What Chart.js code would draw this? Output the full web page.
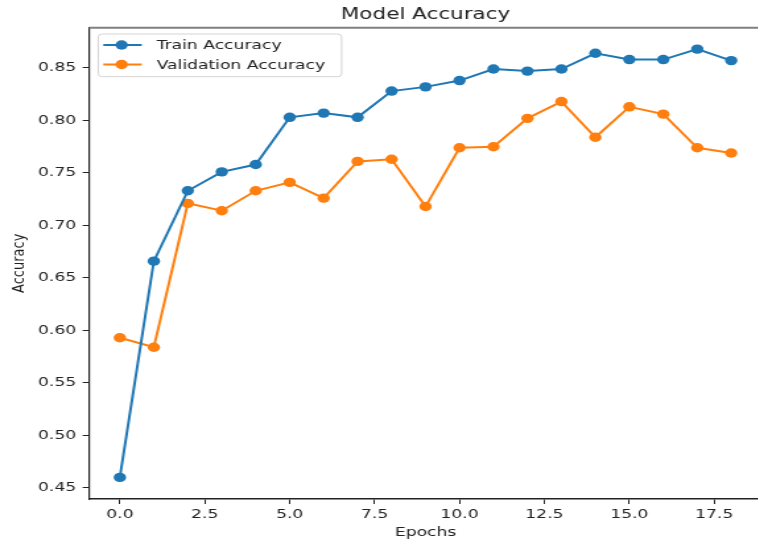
<!DOCTYPE html>
<html lang="en">
  <head>
    <meta charset="UTF-8" />
    <meta name="viewport" content="width=device-width, initial-scale=1.0" />
    <title>Model Accuracy</title>
    <script src="https://cdn.jsdelivr.net/npm/chart.js"></script>
    <style>
      html,
      body {
        margin: 0;
        padding: 0;
        background: #fff;
        overflow: hidden;
      }
      #accChart {
        display: block;
      }
    </style>
  </head>
  <body>
    <!-- the figure is stretched sideways and cut a bit at the right edge -->
    <canvas id="accChart" width="582" height="541" style="width: 768px; height: 541px"></canvas>

    <script>
      // Data
      const epochs = [0, 1, 2, 3, 4, 5, 6, 7, 8, 9, 10, 11, 12, 13, 14, 15, 16, 17, 18];
      const trainAcc = [
        0.46, 0.666, 0.733, 0.751, 0.758, 0.803, 0.807, 0.803, 0.828, 0.832,
        0.838, 0.849, 0.847, 0.849, 0.864, 0.858, 0.858, 0.868, 0.857,
      ];
      const valAcc = [
        0.593, 0.584, 0.721, 0.714, 0.733, 0.741, 0.726, 0.761, 0.763, 0.718,
        0.774, 0.775, 0.802, 0.818, 0.784, 0.813, 0.806, 0.774, 0.769,
      ];
      const xTicks = [0, 2.5, 5, 7.5, 10, 12.5, 15, 17.5];
      const yTicks = [0.45, 0.5, 0.55, 0.6, 0.65, 0.7, 0.75, 0.8, 0.85];

      const textColor = "#222";
      Chart.defaults.font.family = "'DejaVu Sans', sans-serif";
      Chart.defaults.color = textColor;

      // Legend inside the plot (upper left) plus the grey top spine
      const innerLegend = {
        id: "innerLegend",
        afterDraw(chart) {
          const ctx = chart.ctx;
          const area = chart.chartArea;
          ctx.save();

          ctx.strokeStyle = "#808080";
          ctx.lineWidth = 2;
          ctx.beginPath();
          ctx.moveTo(area.left, area.top);
          ctx.lineTo(area.right, area.top);
          ctx.stroke();

          const bx = area.left + 6.8;
          const by = 34;
          ctx.fillStyle = "rgba(255,255,255,0.8)";
          ctx.strokeStyle = "#d4d4d4";
          ctx.lineWidth = 1;
          ctx.beginPath();
          ctx.roundRect(bx, by, 184.4, 42.7, 3);
          ctx.fill();
          ctx.stroke();

          ctx.font = "13px 'DejaVu Sans'";
          ctx.textBaseline = "middle";
          chart.data.datasets.forEach((ds, i) => {
            const ry = 45 + i * 19.5;
            ctx.strokeStyle = ds.borderColor;
            ctx.lineWidth = 2;
            ctx.beginPath();
            ctx.moveTo(bx + 3.8, ry);
            ctx.lineTo(bx + 32.9, ry);
            ctx.stroke();
            ctx.fillStyle = ds.borderColor;
            ctx.beginPath();
            ctx.arc(bx + 17.7, ry, 4.7, 0, Math.PI * 2);
            ctx.fill();
            ctx.fillStyle = textColor;
            ctx.fillText(ds.label, bx + 44.2, ry + 1);
          });
          ctx.restore();
        },
      };

      const ctx = document.getElementById("accChart").getContext("2d");

      const accChart = new Chart(ctx, {
        type: "line",
        data: {
          datasets: [
            {
              label: "Train Accuracy",
              data: epochs.map((e, i) => ({ x: e, y: trainAcc[i] })),
              borderColor: "#1f77b4",
              backgroundColor: "#1f77b4",
              pointBackgroundColor: "#1f77b4",
              borderWidth: 2,
              pointRadius: 4.7,
              pointBorderWidth: 0,
              tension: 0,
            },
            {
              label: "Validation Accuracy",
              data: epochs.map((e, i) => ({ x: e, y: valAcc[i] })),
              borderColor: "#ff7f0e",
              backgroundColor: "#ff7f0e",
              pointBackgroundColor: "#ff7f0e",
              borderWidth: 2,
              pointRadius: 4.7,
              pointBorderWidth: 0,
              tension: 0,
            },
          ],
        },
        options: {
          responsive: false,
          animation: false,
          layout: { padding: 0 },
          scales: {
            x: {
              type: "linear",
              min: -0.9,
              max: 18.9,
              afterBuildTicks: (scale) => {
                scale.ticks = xTicks.map((v) => ({ value: v }));
              },
              afterFit: (scale) => {
                scale.height = 42;
              },
              ticks: {
                font: { size: 13 },
                padding: 3,
                maxRotation: 0,
                callback: (v) => Number(v).toFixed(1),
              },
              grid: {
                drawOnChartArea: false,
                tickLength: 5,
                color: textColor,
              },
              border: { color: textColor, width: 1.5 },
              title: {
                display: true,
                text: "Epochs",
                font: { size: 13 },
                padding: { top: 0, bottom: 1 },
              },
            },
            y: {
              min: 0.4394,
              max: 0.8884,
              afterBuildTicks: (scale) => {
                scale.ticks = yTicks.map((v) => ({ value: v }));
              },
              afterFit: (scale) => {
                scale.width = 67.67;
              },
              ticks: {
                font: { size: 13 },
                padding: 5,
                callback: (v) => Number(v).toFixed(2),
              },
              grid: {
                drawOnChartArea: false,
                tickLength: 5,
                color: textColor,
              },
              border: { color: textColor, width: 1.2 },
              title: {
                display: true,
                text: "Accuracy",
                font: { size: 13 },
                padding: { top: 6.6, bottom: 0 },
              },
            },
          },
          plugins: {
            legend: { display: false },
            tooltip: { enabled: false },
            title: {
              display: true,
              text: "Model Accuracy",
              fullSize: false,
              color: textColor,
              font: { size: 16.3, weight: "normal" },
              padding: { top: 5.4, bottom: 2.7 },
            },
          },
        },
        plugins: [innerLegend],
      });
    </script>
  </body>
</html>
